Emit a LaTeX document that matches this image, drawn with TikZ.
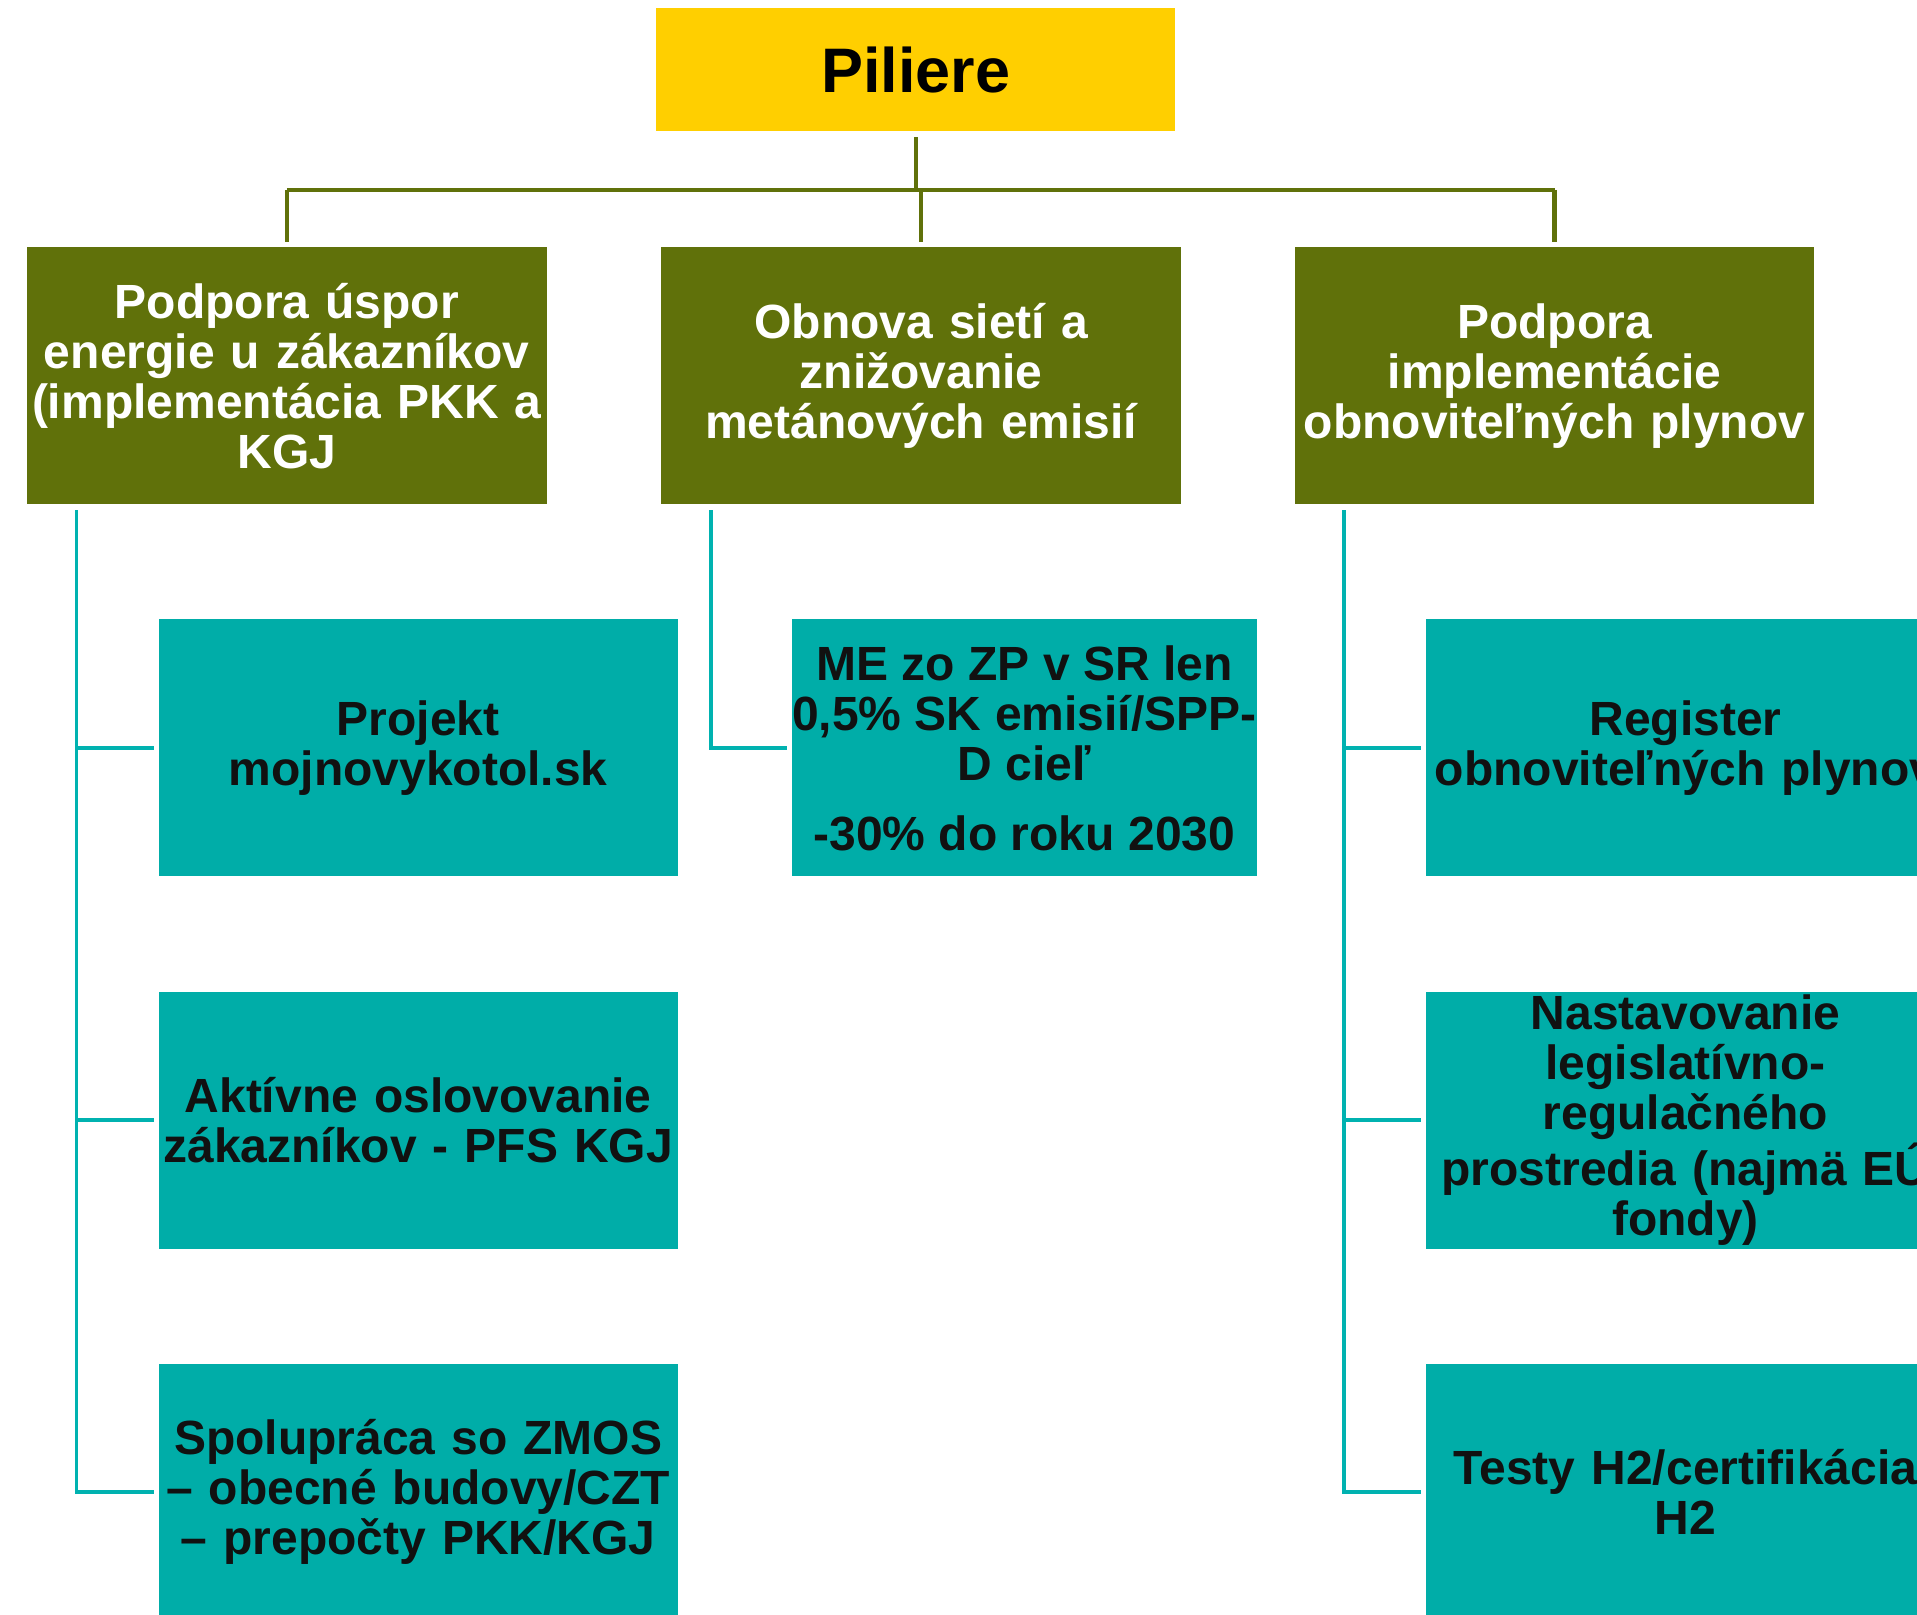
\documentclass[tikz,border=0pt]{standalone}
\usepackage{fontspec}
\setmainfont{Liberation Sans}
\usepackage{tikz}
\usetikzlibrary{calc}
\usetikzlibrary{positioning}

\definecolor{pilieryellow}{RGB}{255,207,0}
\definecolor{pilierolive}{RGB}{96,113,10}
\definecolor{pilierteal}{RGB}{0,173,168}
\definecolor{pilierline}{RGB}{0,178,176}
\definecolor{pilierink}{RGB}{17,17,17}

\begin{document}
\begin{tikzpicture}
			[
			font=\bfseries\fontsize{13.66pt}{14.23pt}\selectfont,
			inner sep=0pt
			]
			
			% Box styles: head, pillar and task
			\tikzstyle{head box}=[fill=pilieryellow,text=black,minimum width=5.19cm,minimum height=1.23cm,font=\bfseries\fontsize{17.9pt}{20pt}\selectfont];
			\tikzstyle{pillar box}=[fill=pilierolive,text=white,text width=5.195cm,minimum height=2.57cm,align=center];
			\tikzstyle{task box}=[fill=pilierteal,text=pilierink,text width=5.19cm,minimum height=2.57cm,align=center];
			\tikzstyle{olive line}=[draw=pilierolive,line width=1.2pt];
			\tikzstyle{teal line}=[draw=pilierline,line width=1pt];
			
			% Frame of the picture
			\useasboundingbox (0,0) rectangle (19.17,-16.15);
			\clip (0,0) rectangle (19.17,-16.15);
			
			% Head
			\node(pil)[head box]at(9.158,-0.70){Piliere};
			
			% Pillars
			\node(p1)[pillar box]at(2.868,-3.76){Podpora úspor\\energie u zákazníkov\\(implementácia PKK a\\KGJ};
			\node(p2)[pillar box]at(9.212,-3.76){Obnova sietí a\\znižovanie\\metánových emisií};
			\node(p3)[pillar box]at(15.545,-3.76){Podpora\\implementácie\\obnoviteľných plynov};
			
			% Tasks of pillar 1
			\node(c11)[task box]at(4.181,-7.48){Projekt\\mojnovykotol.sk};
			\node(c12)[task box]at(4.181,-11.202){Aktívne oslovovanie\\zákazníkov - PFS KGJ};
			\node(c13)[task box]at(4.181,-14.92){Spolupráca so ZMOS\\– obecné budovy/CZT\\– prepočty PKK/KGJ};
			% Task of pillar 2
			\node(c21)[fill=pilierteal,text=pilierink,minimum width=4.652cm,minimum height=2.57cm,align=center]at(10.244,-7.48){ME zo ZP v SR len\\0,5\% SK emisií/SPP-\\D cieľ\\[0.2cm]-30\% do roku 2030};
			% Tasks of pillar 3
			\node(c31)[task box]at(16.855,-7.48){Register\\obnoviteľných plynov};
			\node(c32)[task box]at(16.855,-11.202){Nastavovanie\\legislatívno-\\regulačného\\prostredia (najmä EÚ\\fondy)};
			\node(c33)[task box]at(16.855,-14.92){Testy H2/certifikácia\\H2};
			
			% Head to pillars
			\coordinate(bus)at(0,-1.90);
			\draw[olive line,shorten <=0.05cm](pil.south)to(pil.south |- bus);
			\draw[olive line](p1.north |- bus)to(p3.north |- bus);
			\foreach \x in {1, 2, 3} \draw[olive line,shorten >=0.045cm](p\x.north |- bus)to(p\x.north);
			
			% Pillars to tasks
			\foreach \x in {1, 2, 3} \coordinate(t\x)at($(p\x.south west)+(0.5,-0.05)$);
			\draw[teal line,shorten >=0.04cm](t1)|-(c13.west);
			\draw[teal line,shorten >=0.04cm](t1 |- c11.west)to(c11.west);
			\draw[teal line,shorten >=0.04cm](t1 |- c12.west)to(c12.west);
			\draw[teal line,shorten >=0.04cm](t2)|-(c21.west);
			\draw[teal line,shorten >=0.04cm](t3)|-(c33.west);
			\draw[teal line,shorten >=0.04cm](t3 |- c31.west)to(c31.west);
			\draw[teal line,shorten >=0.04cm](t3 |- c32.west)to(c32.west);
			\end{tikzpicture}
\end{document}
